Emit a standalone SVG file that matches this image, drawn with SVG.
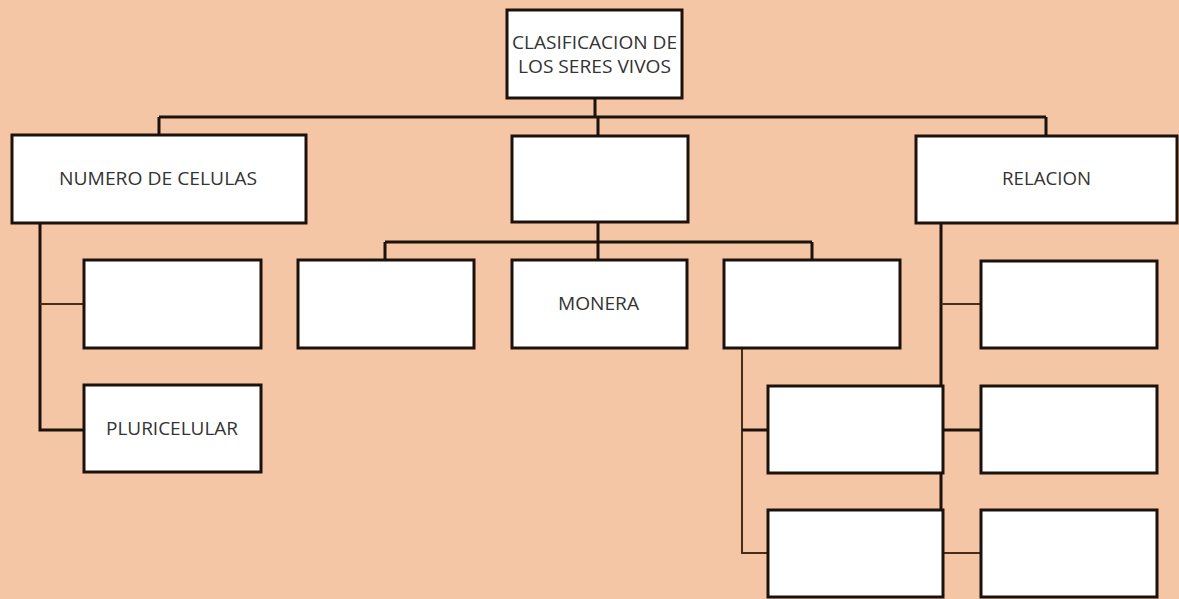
<svg xmlns="http://www.w3.org/2000/svg" width="1179" height="599" viewBox="0 0 1179 599">
<style>
.bg{fill:#F5C6A6}
.box{fill:#ffffff;stroke:#1c120c;stroke-width:3}
.thick{fill:none;stroke:#1c120c;stroke-width:3}
.thin{fill:none;stroke:#4a2c1a;stroke-width:2}
.lbl{font-family:"Open Sans","Liberation Sans",sans-serif;font-size:19px;fill:#333333;text-anchor:middle}
</style>
<rect class="bg" x="0" y="0" width="1179" height="599"/>
<g id="connectors">
<path class="thick" d="M595 98 V117 M159 117 H1046 M159 117 V135 M598 117 V136 M1046 117 V136"/>
<path class="thick" d="M40 223 V430 H84"/>
<path class="thin" d="M40 304 H84"/>
<path class="thick" d="M598 222 V260 M385 242 H812 M385 242 V260 M812 242 V260"/>
<path class="thin" d="M742 348 V553 H768"/>
<path class="thick" d="M742 430 H768"/>
<path class="thick" d="M941 223 V510 M943 430 H981"/>
<path class="thin" d="M941 304 H981 M943 553 H981"/>
</g>
<g id="root">
<rect class="box" x="507" y="10" width="175" height="88"/>
<text class="lbl" x="594.5" y="49" textLength="165" lengthAdjust="spacingAndGlyphs">CLASIFICACION DE</text>
<text class="lbl" x="594.5" y="73" textLength="153" lengthAdjust="spacingAndGlyphs">LOS SERES VIVOS</text>
</g>
<g id="numero">
<rect class="box" x="12" y="135" width="294" height="88"/>
<text class="lbl" x="158" y="185" textLength="198" lengthAdjust="spacingAndGlyphs">NUMERO DE CELULAS</text>
</g>
<g id="middle">
<rect class="box" x="512" y="136" width="176" height="86"/>
</g>
<g id="relacion">
<rect class="box" x="916" y="136" width="261" height="87"/>
<text class="lbl" x="1046.5" y="185" textLength="89" lengthAdjust="spacingAndGlyphs">RELACION</text>
</g>
<g id="left1">
<rect class="box" x="84" y="260" width="177" height="88"/>
</g>
<g id="pluricelular">
<rect class="box" x="84" y="385" width="177" height="87"/>
<text class="lbl" x="172" y="435" textLength="132" lengthAdjust="spacingAndGlyphs">PLURICELULAR</text>
</g>
<g id="mid1">
<rect class="box" x="298" y="260" width="176" height="88"/>
</g>
<g id="monera">
<rect class="box" x="512" y="260" width="175" height="88"/>
<text class="lbl" x="598.5" y="310" textLength="81" lengthAdjust="spacingAndGlyphs">MONERA</text>
</g>
<g id="mid3">
<rect class="box" x="724" y="260" width="176" height="88"/>
</g>
<g id="sub1">
<rect class="box" x="768" y="386" width="175" height="87"/>
</g>
<g id="sub2">
<rect class="box" x="768" y="510" width="175" height="87"/>
</g>
<g id="rel1">
<rect class="box" x="981" y="261" width="176" height="87"/>
</g>
<g id="rel2">
<rect class="box" x="981" y="386" width="176" height="87"/>
</g>
<g id="rel3">
<rect class="box" x="981" y="510" width="176" height="87"/>
</g>
</svg>
